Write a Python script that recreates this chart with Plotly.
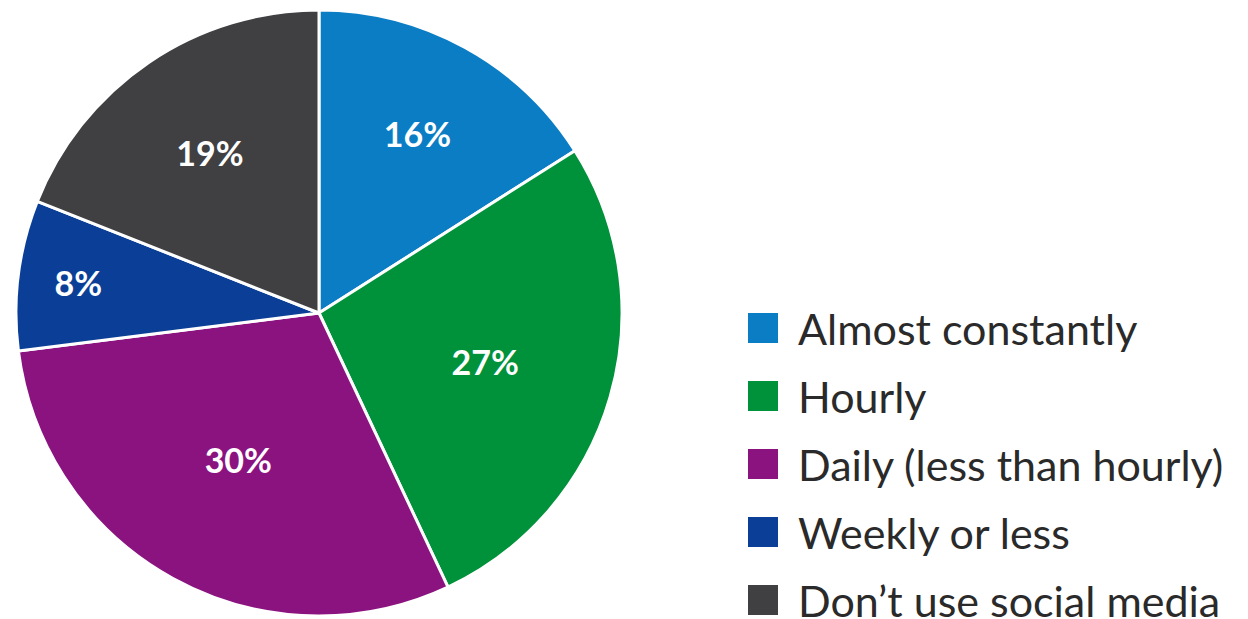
import plotly.graph_objects as go

# Share of respondents by how often they check social media
categories = ["Almost constantly", "Hourly", "Daily (less than hourly)",
              "Weekly or less", "Don\u2019t use social media"]
shares = [16, 27, 30, 8, 19]
colors = ["#0b7dc4", "#00923a", "#8b137f", "#0b3f97", "#404042"]

W, H = 1248, 619
cx, cy, r = 319, 313, 303

fig = go.Figure()

fig.add_trace(go.Pie(
    labels=categories,
    values=shares,
    sort=False,
    direction="clockwise",
    rotation=0,
    marker=dict(colors=colors, line=dict(color="white", width=3)),
    texttemplate="%{value}%",
    textposition="inside",
    insidetextorientation="horizontal",
    textfont=dict(family="Lato", size=34, color="white", weight="bold"),
    hoverinfo="label+percent",
    showlegend=False,
    domain=dict(x=[(cx - r) / W, (cx + r) / W],
                y=[1 - (cy + r) / H, 1 - (cy - r) / H]),
))

# Key on the right: large colour swatch + label per category
key_left, key_top, key_step, sw = 748, 328, 68, 30
for i, (name, col) in enumerate(zip(categories, colors)):
    yc = key_top + i * key_step
    fig.add_shape(
        type="rect", xref="paper", yref="paper",
        x0=key_left / W, x1=(key_left + sw) / W,
        y0=1 - (yc + sw / 2) / H, y1=1 - (yc - sw / 2) / H,
        fillcolor=col, line=dict(width=0),
    )
    fig.add_annotation(
        xref="paper", yref="paper",
        x=(key_left + sw + 18) / W, y=1 - yc / H,
        xanchor="left", yanchor="middle",
        text=name, showarrow=False,
        font=dict(family="Lato", size=43, color="#2a2a2a"),
    )

fig.update_layout(
    width=W, height=H,
    margin=dict(l=0, r=0, t=0, b=0, autoexpand=False),
    paper_bgcolor="white",
    plot_bgcolor="white",
    showlegend=False,
)

fig.write_html("out.html")
